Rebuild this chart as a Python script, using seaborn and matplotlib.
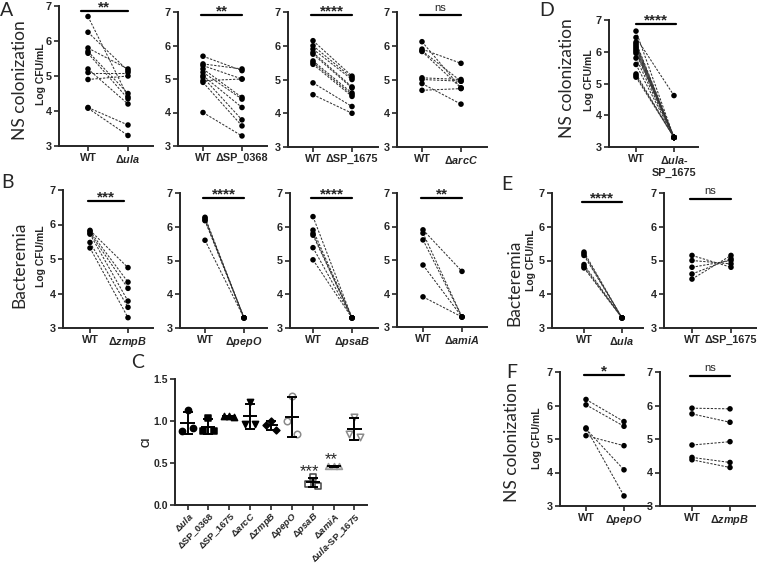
import numpy as np
import pandas as pd
import matplotlib
matplotlib.use("Agg")
import matplotlib.pyplot as plt
import seaborn as sns

# ---------------- data ----------------
# Panel A : NS colonization (Log CFU/mL), paired WT vs mutant
ula_ns_wt = [6.7, 6.25, 5.8, 5.7, 5.65, 5.2, 5.1, 4.9, 4.1, 4.08]
ula_ns_mut = [4.4, 5.15, 5.2, 4.5, 4.35, 4.2, 5.1, 5.0, 3.6, 3.3]
sp0368_ns_wt = [5.68, 5.45, 5.4, 4.95, 5.3, 5.2, 5.1, 5.05, 4.9, 4.0]
sp0368_ns_mut = [5.25, 5.3, 5.0, 5.0, 4.45, 4.4, 4.15, 3.78, 3.6, 3.3]
sp1675_ns_wt = [6.15, 6.0, 5.9, 5.8, 5.75, 5.55, 5.5, 5.45, 4.9, 4.55]
sp1675_ns_mut = [5.1, 5.05, 5.0, 4.78, 4.75, 4.6, 4.55, 4.5, 4.2, 4.0]
arcc_ns_wt = [6.12, 5.9, 5.85, 5.05, 5.0, 4.88, 4.68, 5.83]
arcc_ns_mut = [4.75, 5.48, 4.95, 5.0, 4.95, 4.27, 4.73, 4.75]
# Panel D
ulasp_ns_wt = [6.65, 6.45, 6.3, 6.25, 6.2, 6.15, 6.1, 6.05, 6.0, 5.95, 5.8, 5.6, 5.3, 5.25, 5.2]
ulasp_ns_mut = [3.3, 4.62, 3.3, 3.3, 3.3, 3.3, 3.3, 3.3, 3.3, 3.3, 3.3, 3.3, 3.3, 3.3, 3.3]
# Panel B : Bacteremia
zmpb_bac_wt = [5.83, 5.8, 5.75, 5.72, 5.48, 5.32]
zmpb_bac_mut = [4.75, 4.33, 4.15, 3.78, 3.6, 3.3]
pepo_bac_wt = [6.28, 6.25, 6.2, 6.18, 5.6]
pepo_bac_mut = [3.3, 3.3, 3.3, 3.3, 3.3]
psab_bac_wt = [6.3, 5.9, 5.8, 5.75, 5.38, 5.02]
psab_bac_mut = [3.3, 3.3, 3.3, 3.3, 3.3, 3.3]
amia_bac_wt = [5.9, 5.8, 5.6, 4.85, 3.9]
amia_bac_mut = [4.66, 3.3, 3.3, 3.3, 3.3]
# Panel E
ula_bac_wt = [5.25, 5.2, 5.15, 4.88, 4.82, 4.78]
ula_bac_mut = [3.3, 3.3, 3.3, 3.3, 3.3, 3.3]
sp1675_bac_wt = [5.15, 5.0, 4.8, 4.6, 4.45]
sp1675_bac_mut = [4.8, 4.9, 5.0, 5.05, 5.15]
# Panel F
pepo_ns_wt = [6.18, 6.02, 5.33, 5.3, 5.1]
pepo_ns_mut = [5.52, 5.38, 3.3, 4.08, 4.8]
zmpb_ns_wt = [5.92, 5.75, 4.82, 4.45, 4.38]
zmpb_ns_mut = [5.9, 5.5, 4.92, 4.3, 4.15]

# Panel C : competitive index
ci_labels = [r"Δ$\mathit{ula}$", "ΔSP_0368", "ΔSP_1675", r"Δ$\mathit{arcC}$",
             r"Δ$\mathit{zmpB}$", r"Δ$\mathit{pepO}$", r"Δ$\mathit{psaB}$",
             r"Δ$\mathit{amiA}$", r"Δ$\mathit{ula}$-SP_1675"]
ci_values = [[1.13, 0.88, 0.92], [1.04, 0.88, 0.88], [1.06, 1.06, 1.05],
             [1.23, 0.97, 0.97], [1.0, 0.95, 0.89], [1.3, 1.0, 0.84],
             [0.33, 0.25, 0.23], [0.46, 0.46, 0.47], [1.05, 0.85, 0.81]]
ci_sig = ["", "", "", "", "", "", "***", "**", ""]

# ---------------- style ----------------
sns.set_style("ticks")
plt.rcParams['font.family'] = ['Liberation Sans', 'DejaVu Sans']
plt.rcParams['font.weight'] = 'bold'
plt.rcParams['mathtext.fontset'] = 'custom'
plt.rcParams['mathtext.it'] = 'Liberation Sans:italic:bold'
plt.rcParams['mathtext.rm'] = 'Liberation Sans:bold'
plt.rcParams['mathtext.bf'] = 'Liberation Sans:bold'

W, H = 757, 567
fig = plt.figure(figsize=(W / 100, H / 100), dpi=100)
BIG = ['Lato', 'DejaVu Sans']


def make_ax(L, R, T, B):
    return fig.add_axes([L / W, 1 - B / H, (R - L) / W, (B - T) / H])


def style_axis(ax, size=7.8):
    sns.despine(ax=ax)
    for s in ['left', 'bottom']:
        ax.spines[s].set_linewidth(1.4)
    ax.tick_params(axis='both', direction='out', length=3.5, width=1.2,
                   labelsize=size, pad=1.5)


def paired(geom, wt, mut, mutant, sig, bar_y, bar_x=(-0.05, 1.0),
           ylab_px=None):
    L, R, T, B, x0, x1 = geom
    ax = make_ax(L, R, T, B)
    n = len(wt)
    df = pd.DataFrame({'mouse': list(range(n)) * 2,
                       'strain': [0] * n + [1] * n,
                       'cfu': list(wt) + list(mut)})
    sns.lineplot(data=df, x='strain', y='cfu', units='mouse', estimator=None,
                 color='#333333', lw=0.75, ls=(0, (2.2, 1.4)), ax=ax,
                 legend=False)
    sns.scatterplot(data=df, x='strain', y='cfu', color='black', s=16,
                    edgecolor='none', ax=ax, zorder=3, clip_on=False,
                    legend=False)
    unit = x1 - x0
    ax.set_xlim((L - x0) / unit, (R - x0) / unit)
    ax.set_ylim(3, 7)
    ax.set_yticks([3, 4, 5, 6, 7])
    ax.set_xticks([0, 1])
    ax.set_xticklabels(['WT', mutant])
    ax.set_xlabel('')
    ax.set_ylabel('')
    style_axis(ax)
    ax.plot(bar_x, [bar_y, bar_y], color='black', lw=1.6, clip_on=False)
    if sig == 'ns':
        ax.annotate(sig, xy=(np.mean(bar_x), bar_y), xytext=(0, 2),
                    textcoords='offset points', ha='center', va='bottom',
                    fontsize=8, fontweight='normal', annotation_clip=False)
    else:
        ax.annotate(sig, xy=(np.mean(bar_x), bar_y), xytext=(0, -2.5),
                    textcoords='offset points', ha='center', va='bottom',
                    fontsize=11, fontweight='bold', annotation_clip=False)
    if ylab_px is not None:
        xp, yp = ylab_px
        ax.set_ylabel('Log CFU/mL', fontsize=7.5, fontweight='bold',
                      va='center')
        ax.yaxis.set_label_coords((xp - L) / (R - L), (B - yp) / (B - T))
    return ax


# ---- Row A ----
paired((59, 153, 6, 146, 88, 128), ula_ns_wt, ula_ns_mut, r"Δ$\mathit{ula}$",
       '**', 6.86, bar_x=(-0.18, 1.0), ylab_px=(41, 74))
paired((178, 267, 12, 146, 203, 242), sp0368_ns_wt, sp0368_ns_mut, "ΔSP_0368",
       '**', 6.9)
paired((288, 378, 12, 147, 313, 352), sp1675_ns_wt, sp1675_ns_mut, "ΔSP_1675",
       '****', 6.9)
paired((397, 487, 12, 147, 422, 461), arcc_ns_wt, arcc_ns_mut,
       r"Δ$\mathit{arcC}$", 'ns', 6.9)
# ---- D ----
paired((609, 698, 20, 147, 636, 674), ulasp_ns_wt, ulasp_ns_mut,
       "Δ$\\mathit{ula}$-\nSP_1675", '****', 6.87, bar_x=(0, 1.05),
       ylab_px=(589, 80))
# ---- Row B ----
paired((63, 153, 190, 328, 90, 128), zmpb_bac_wt, zmpb_bac_mut,
       r"Δ$\mathit{zmpB}$", '***', 6.68, bar_x=(-0.05, 0.9), ylab_px=(41, 256))
paired((180, 267, 193, 328, 205, 244), pepo_bac_wt, pepo_bac_mut,
       r"Δ$\mathit{pepO}$", '****', 6.85)
paired((290, 378, 193, 328, 313, 352), psab_bac_wt, psab_bac_mut,
       r"Δ$\mathit{psaB}$", '****', 6.85)
paired((397, 487, 193, 327, 423, 462), amia_bac_wt, amia_bac_mut,
       r"Δ$\mathit{amiA}$", '**', 6.85)
# ---- E ----
paired((552, 643, 193, 328, 584, 622), ula_bac_wt, ula_bac_mut,
       r"Δ$\mathit{ula}$", '****', 6.73, ylab_px=(531, 260))
paired((664, 757, 193, 328, 692, 731), sp1675_bac_wt, sp1675_bac_mut,
       "ΔSP_1675", 'ns', 6.82)
# ---- F ----
paired((560, 650, 372, 506, 586, 624), pepo_ns_wt, pepo_ns_mut,
       r"Δ$\mathit{pepO}$", '*', 6.91, ylab_px=(537, 438))
paired((660, 755, 372, 506, 692, 730), zmpb_ns_wt, zmpb_ns_mut,
       r"Δ$\mathit{zmpB}$", 'ns', 6.88)

# ---- Panel C ----
axc = make_ax(175, 367, 379, 505)
markers = ['o', 's', '^', 'v', 'D', 'o', 's', '^', 'v']
faces = ['black', 'black', 'black', 'black', 'black', 'white', 'white',
         '#c8c8c8', 'white']
edges = ['black', 'black', 'black', 'black', 'black', '#8a8a8a', '#444444',
         '#9a9a9a', '#8a8a8a']
sizes = [20, 20, 20, 20, 12, 22, 22, 18, 22]
rep_offset = [0.0, -0.25, 0.25]
rows = []
for i, vals in enumerate(ci_values):
    for j, v in enumerate(vals):
        rows.append({'mutant': i, 'rep': j, 'ci': v,
                     'xpos': i + rep_offset[j]})
cdf = pd.DataFrame(rows)
for i in range(len(ci_labels)):
    sub = cdf[cdf['mutant'] == i]
    sns.scatterplot(data=sub, x='xpos', y='ci', marker=markers[i], s=sizes[i],
                    color=faces[i], edgecolor=edges[i], linewidth=1.1,
                    ax=axc, zorder=2, legend=False)
    m = sub['ci'].mean()
    sd = sub['ci'].std()
    axc.hlines(m, i - 0.34, i + 0.34, color='black', lw=1.4, zorder=3)
    axc.errorbar([i], [m], yerr=[sd], fmt='none', ecolor='black',
                 elinewidth=1.4, capsize=3.5, capthick=1.4, zorder=3)
    if ci_sig[i]:
        axc.annotate(ci_sig[i], xy=(i, m + sd), xytext=(-2, -1),
                     textcoords='offset points', ha='center', va='bottom',
                     fontsize=12, fontweight='normal')
axc.set_xlim(-0.6, 8.6)
axc.set_ylim(0, 1.5)
axc.set_yticks([0.0, 0.5, 1.0, 1.5])
axc.set_yticklabels(['0.0', '0.5', '1.0', '1.5'])
axc.set_xticks(range(len(ci_labels)))
axc.set_xlabel('')
style_axis(axc, size=7.5)
axc.tick_params(axis='x', pad=0.5)
axc.set_xticklabels(ci_labels, rotation=45, ha='right',
                    rotation_mode='anchor', fontsize=6.8)
axc.set_ylabel('CI', fontsize=7.5, fontweight='bold', va='center')
axc.yaxis.set_label_coords((147 - 175) / (367 - 175), (505 - 442) / 126)

# ---- big row labels and panel letters ----
for txt, x, y in [("NS colonization", 20, 80), ("Bacteremia", 19, 265),
                  ("NS colonization", 567, 78), ("Bacteremia", 514, 283),
                  ("NS colonization", 512, 442)]:
    fig.text(x / W, 1 - y / H, txt, rotation=90, ha='center', va='center',
             fontsize=12.5, fontweight='normal', family=BIG)
for txt, x, y in [("A", 7, 11), ("B", 7, 182), ("C", 138, 363),
                  ("D", 547, 10), ("E", 507, 185), ("F", 512, 372)]:
    fig.text(x / W, 1 - y / H, txt, ha='center', va='center',
             fontsize=14, fontweight='normal', family=BIG)

fig.savefig("out.png", dpi=100)
